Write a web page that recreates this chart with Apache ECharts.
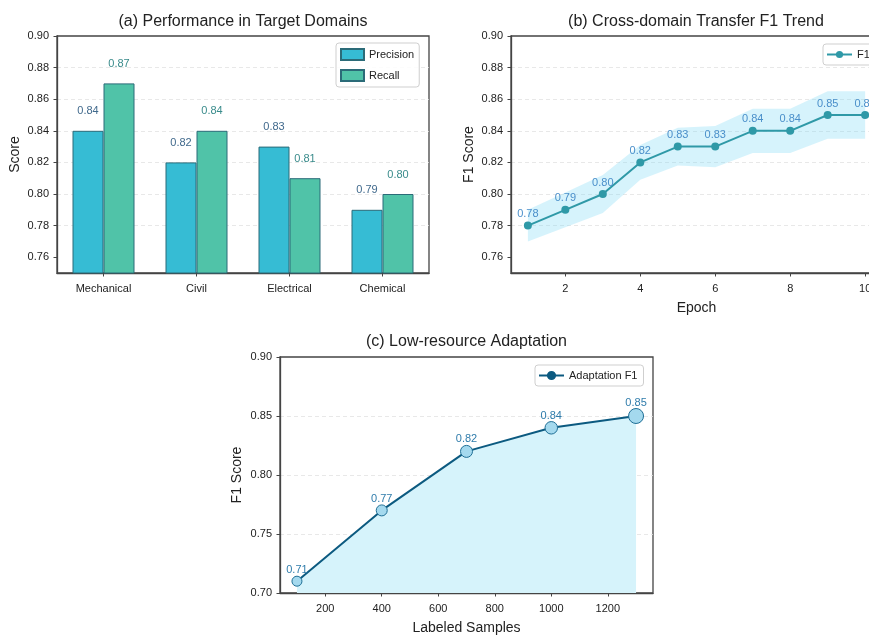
<!DOCTYPE html>
<html>
<head>
<meta charset="utf-8">
<script src="https://cdn.jsdelivr.net/npm/echarts@6/dist/echarts.min.js"></script>
<style>
  html, body { margin: 0; padding: 0; background: #ffffff; }
  #chart { width: 869px; height: 639px; }
</style>
</head>
<body>
<div id="chart"></div>
<script>
// (a) Precision / recall per target domain
const domains = ['Mechanical', 'Civil', 'Electrical', 'Chemical'];
const precision = [0.84, 0.82, 0.83, 0.79];
const recall = [0.87, 0.84, 0.81, 0.80];
const scoreTicks = [0.76, 0.78, 0.80, 0.82, 0.84, 0.86, 0.88, 0.90];

// (b) F1 over training epochs with its spread
const epochs = [1, 2, 3, 4, 5, 6, 7, 8, 9, 10];
const transferF1 = [0.78, 0.79, 0.80, 0.82, 0.83, 0.83, 0.84, 0.84, 0.85, 0.85];
const transferSpread = [0.010, 0.011, 0.012, 0.011, 0.012, 0.013, 0.014, 0.014, 0.015, 0.015];
const epochTicks = [2, 4, 6, 8, 10];

// (c) F1 against number of labeled samples
const labeledSamples = [100, 400, 700, 1000, 1300];
const adaptationF1 = [0.71, 0.77, 0.82, 0.84, 0.85];
const sampleTicks = [200, 400, 600, 800, 1000, 1200];
const f1Ticks = [0.70, 0.75, 0.80, 0.85, 0.90];

const FONT = '"Liberation Sans", Arial, Helvetica, sans-serif';
const INK = '#222222';
const SPINE = '#444444';
const fmt2 = v => Number(v).toFixed(2);

const spineLine = { show: true, lineStyle: { color: SPINE, width: 1.3 } };
const outTick = vals => ({ show: true, inside: false, length: 3.5, customValues: vals,
  lineStyle: { color: SPINE, width: 1 } });
const dashGrid = { show: true, showMinLine: false, showMaxLine: false,
  lineStyle: { color: '#e2e2e2', type: [4, 3], width: 0.8 } };
const tickText = { color: INK, fontSize: 11, fontFamily: FONT };
const nameText = { color: INK, fontSize: 14, fontFamily: FONT };
const frame = { show: true, borderColor: SPINE, borderWidth: 1.3, backgroundColor: 'transparent',
  containLabel: false, outerBoundsMode: 'none' };

const chart = echarts.init(document.getElementById('chart'), null, { renderer: 'canvas' });

chart.setOption({
  animation: false,
  backgroundColor: '#ffffff',
  textStyle: { fontFamily: FONT },
  grid: [
    Object.assign({ left: 57, width: 372, top: 36, height: 237 }, frame),
    Object.assign({ left: 511, width: 371, top: 36, height: 237 }, frame),
    Object.assign({ left: 280, width: 373, top: 357, height: 236 }, frame)
  ],
  xAxis: [
    {
      gridIndex: 0, type: 'category', data: domains,
      axisLine: spineLine,
      axisTick: { show: true, alignWithLabel: true, inside: false, length: 3.5, lineStyle: { color: SPINE } },
      axisLabel: Object.assign({ margin: 10 }, tickText),
      splitLine: { show: false }
    },
    {
      gridIndex: 1, type: 'value', min: 0.55, max: 10.45,
      name: 'Epoch', nameLocation: 'middle', nameGap: 28, nameTextStyle: nameText,
      axisLine: spineLine, axisTick: outTick(epochTicks),
      axisLabel: Object.assign({ margin: 10, customValues: epochTicks, formatter: v => String(v) }, tickText),
      splitLine: { show: false }
    },
    {
      gridIndex: 2, type: 'value', min: 40, max: 1360,
      name: 'Labeled Samples', nameLocation: 'middle', nameGap: 28, nameTextStyle: nameText,
      axisLine: spineLine, axisTick: outTick(sampleTicks),
      axisLabel: Object.assign({ margin: 10, customValues: sampleTicks, formatter: v => String(v) }, tickText),
      splitLine: { show: false }
    }
  ],
  yAxis: [
    {
      gridIndex: 0, type: 'value', min: 0.75, max: 0.90,
      name: 'Score', nameLocation: 'middle', nameGap: 35, nameTextStyle: nameText,
      axisLine: spineLine, axisTick: outTick(scoreTicks),
      axisLabel: Object.assign({ margin: 8, customValues: scoreTicks, formatter: fmt2 }, tickText),
      splitLine: dashGrid
    },
    {
      gridIndex: 1, type: 'value', min: 0.75, max: 0.90,
      name: 'F1 Score', nameLocation: 'middle', nameGap: 35, nameTextStyle: nameText,
      axisLine: spineLine, axisTick: outTick(scoreTicks),
      axisLabel: Object.assign({ margin: 8, customValues: scoreTicks, formatter: fmt2 }, tickText),
      splitLine: dashGrid
    },
    {
      gridIndex: 2, type: 'value', min: 0.70, max: 0.90,
      name: 'F1 Score', nameLocation: 'middle', nameGap: 36, nameTextStyle: nameText,
      axisLine: spineLine, axisTick: outTick(f1Ticks),
      axisLabel: Object.assign({ margin: 8, customValues: f1Ticks, formatter: fmt2 }, tickText),
      splitLine: dashGrid
    }
  ],
  legend: [
    {
      data: ['Precision', 'Recall'], orient: 'vertical', left: 336, top: 43,
      padding: [5, 5, 5, 4], itemGap: 8, itemWidth: 23, itemHeight: 11, icon: 'rect',
      borderColor: '#cfcfcf', borderWidth: 1, borderRadius: 3, backgroundColor: 'rgba(255,255,255,0.85)',
      textStyle: { color: INK, fontSize: 11, fontFamily: FONT }
    },
    {
      data: ['F1 Score'], left: 823, top: 44,
      padding: [5, 5, 5, 3], itemWidth: 25, itemHeight: 9,
      borderColor: '#cfcfcf', borderWidth: 1, borderRadius: 3, backgroundColor: 'rgba(255,255,255,0.85)',
      textStyle: { color: INK, fontSize: 11, fontFamily: FONT }
    },
    {
      data: [{ name: 'Adaptation F1', itemStyle: { color: '#0c5a80', borderColor: '#0c5a80' } }],
      left: 535, top: 365,
      padding: [5, 6, 5, 3], itemWidth: 25, itemHeight: 9,
      borderColor: '#cfcfcf', borderWidth: 1, borderRadius: 3, backgroundColor: 'rgba(255,255,255,0.85)',
      textStyle: { color: INK, fontSize: 11, fontFamily: FONT }
    }
  ],
  series: [
    {
      name: 'Precision', type: 'bar', xAxisIndex: 0, yAxisIndex: 0,
      data: precision, barWidth: 31, barGap: '0%',
      itemStyle: { color: '#36bcd4', borderColor: '#2b6b78', borderWidth: 1 },
      label: { show: true, position: 'top', distance: 14, formatter: p => fmt2(p.value),
        color: '#40698c', fontSize: 11, fontFamily: FONT }
    },
    {
      name: 'Recall', type: 'bar', xAxisIndex: 0, yAxisIndex: 0,
      data: recall, barWidth: 31, barGap: '0%',
      itemStyle: { color: '#50c3a8', borderColor: '#2b6b78', borderWidth: 1 },
      label: { show: true, position: 'top', distance: 14, formatter: p => fmt2(p.value),
        color: '#398b8b', fontSize: 11, fontFamily: FONT }
    },
    {
      // shaded spread band around the epoch curve
      name: 'F1 spread', type: 'custom', xAxisIndex: 1, yAxisIndex: 1,
      silent: true, z: 1, data: [[epochs[0], transferF1[0]]],
      renderItem: (params, api) => {
        const upper = epochs.map((e, i) => api.coord([e, transferF1[i] + transferSpread[i]]));
        const lower = epochs.map((e, i) => api.coord([e, transferF1[i] - transferSpread[i]])).reverse();
        return {
          type: 'polygon',
          shape: { points: upper.concat(lower) },
          style: { fill: 'rgba(130, 218, 246, 0.33)', stroke: 'none' }
        };
      }
    },
    {
      name: 'F1 Score', type: 'line', xAxisIndex: 1, yAxisIndex: 1, z: 3,
      data: epochs.map((e, i) => [e, transferF1[i]]),
      symbol: 'circle', symbolSize: 8,
      lineStyle: { color: '#2f99a7', width: 2 },
      itemStyle: { color: '#2f99a7' },
      label: { show: true, position: 'top', distance: 2, formatter: p => fmt2(p.value[1]),
        color: '#4a8fca', fontSize: 11, fontFamily: FONT }
    },
    {
      name: 'Adaptation F1', type: 'line', xAxisIndex: 2, yAxisIndex: 2, z: 3,
      data: labeledSamples.map((x, i) => [x, adaptationF1[i]]),
      symbol: 'circle',
      symbolSize: (v, p) => [10, 11, 12, 12.5, 15][p.dataIndex],
      lineStyle: { color: '#0c5a80', width: 2 },
      itemStyle: { color: '#a4d9ee', borderColor: '#1f6f96', borderWidth: 1 },
      areaStyle: { color: '#d6f3fb', opacity: 1, origin: 'start' },
      label: { show: true, position: 'top', distance: 0, formatter: p => fmt2(p.value[1]),
        color: '#2f7cab', fontSize: 11, fontFamily: FONT }
    }
  ],
  graphic: [
    { type: 'text', x: 243, y: 21.5, silent: true,
      style: { text: '(a) Performance in Target Domains', fontSize: 16, fontFamily: FONT, fill: INK, align: 'center', verticalAlign: 'middle' } },
    { type: 'text', x: 696, y: 22, silent: true,
      style: { text: '(b) Cross-domain Transfer F1 Trend', fontSize: 16, fontFamily: FONT, fill: INK, align: 'center', verticalAlign: 'middle' } },
    { type: 'text', x: 466.5, y: 342, silent: true,
      style: { text: '(c) Low-resource Adaptation', fontSize: 16, fontFamily: FONT, fill: INK, align: 'center', verticalAlign: 'middle' } }
  ]
});
</script>
</body>
</html>
